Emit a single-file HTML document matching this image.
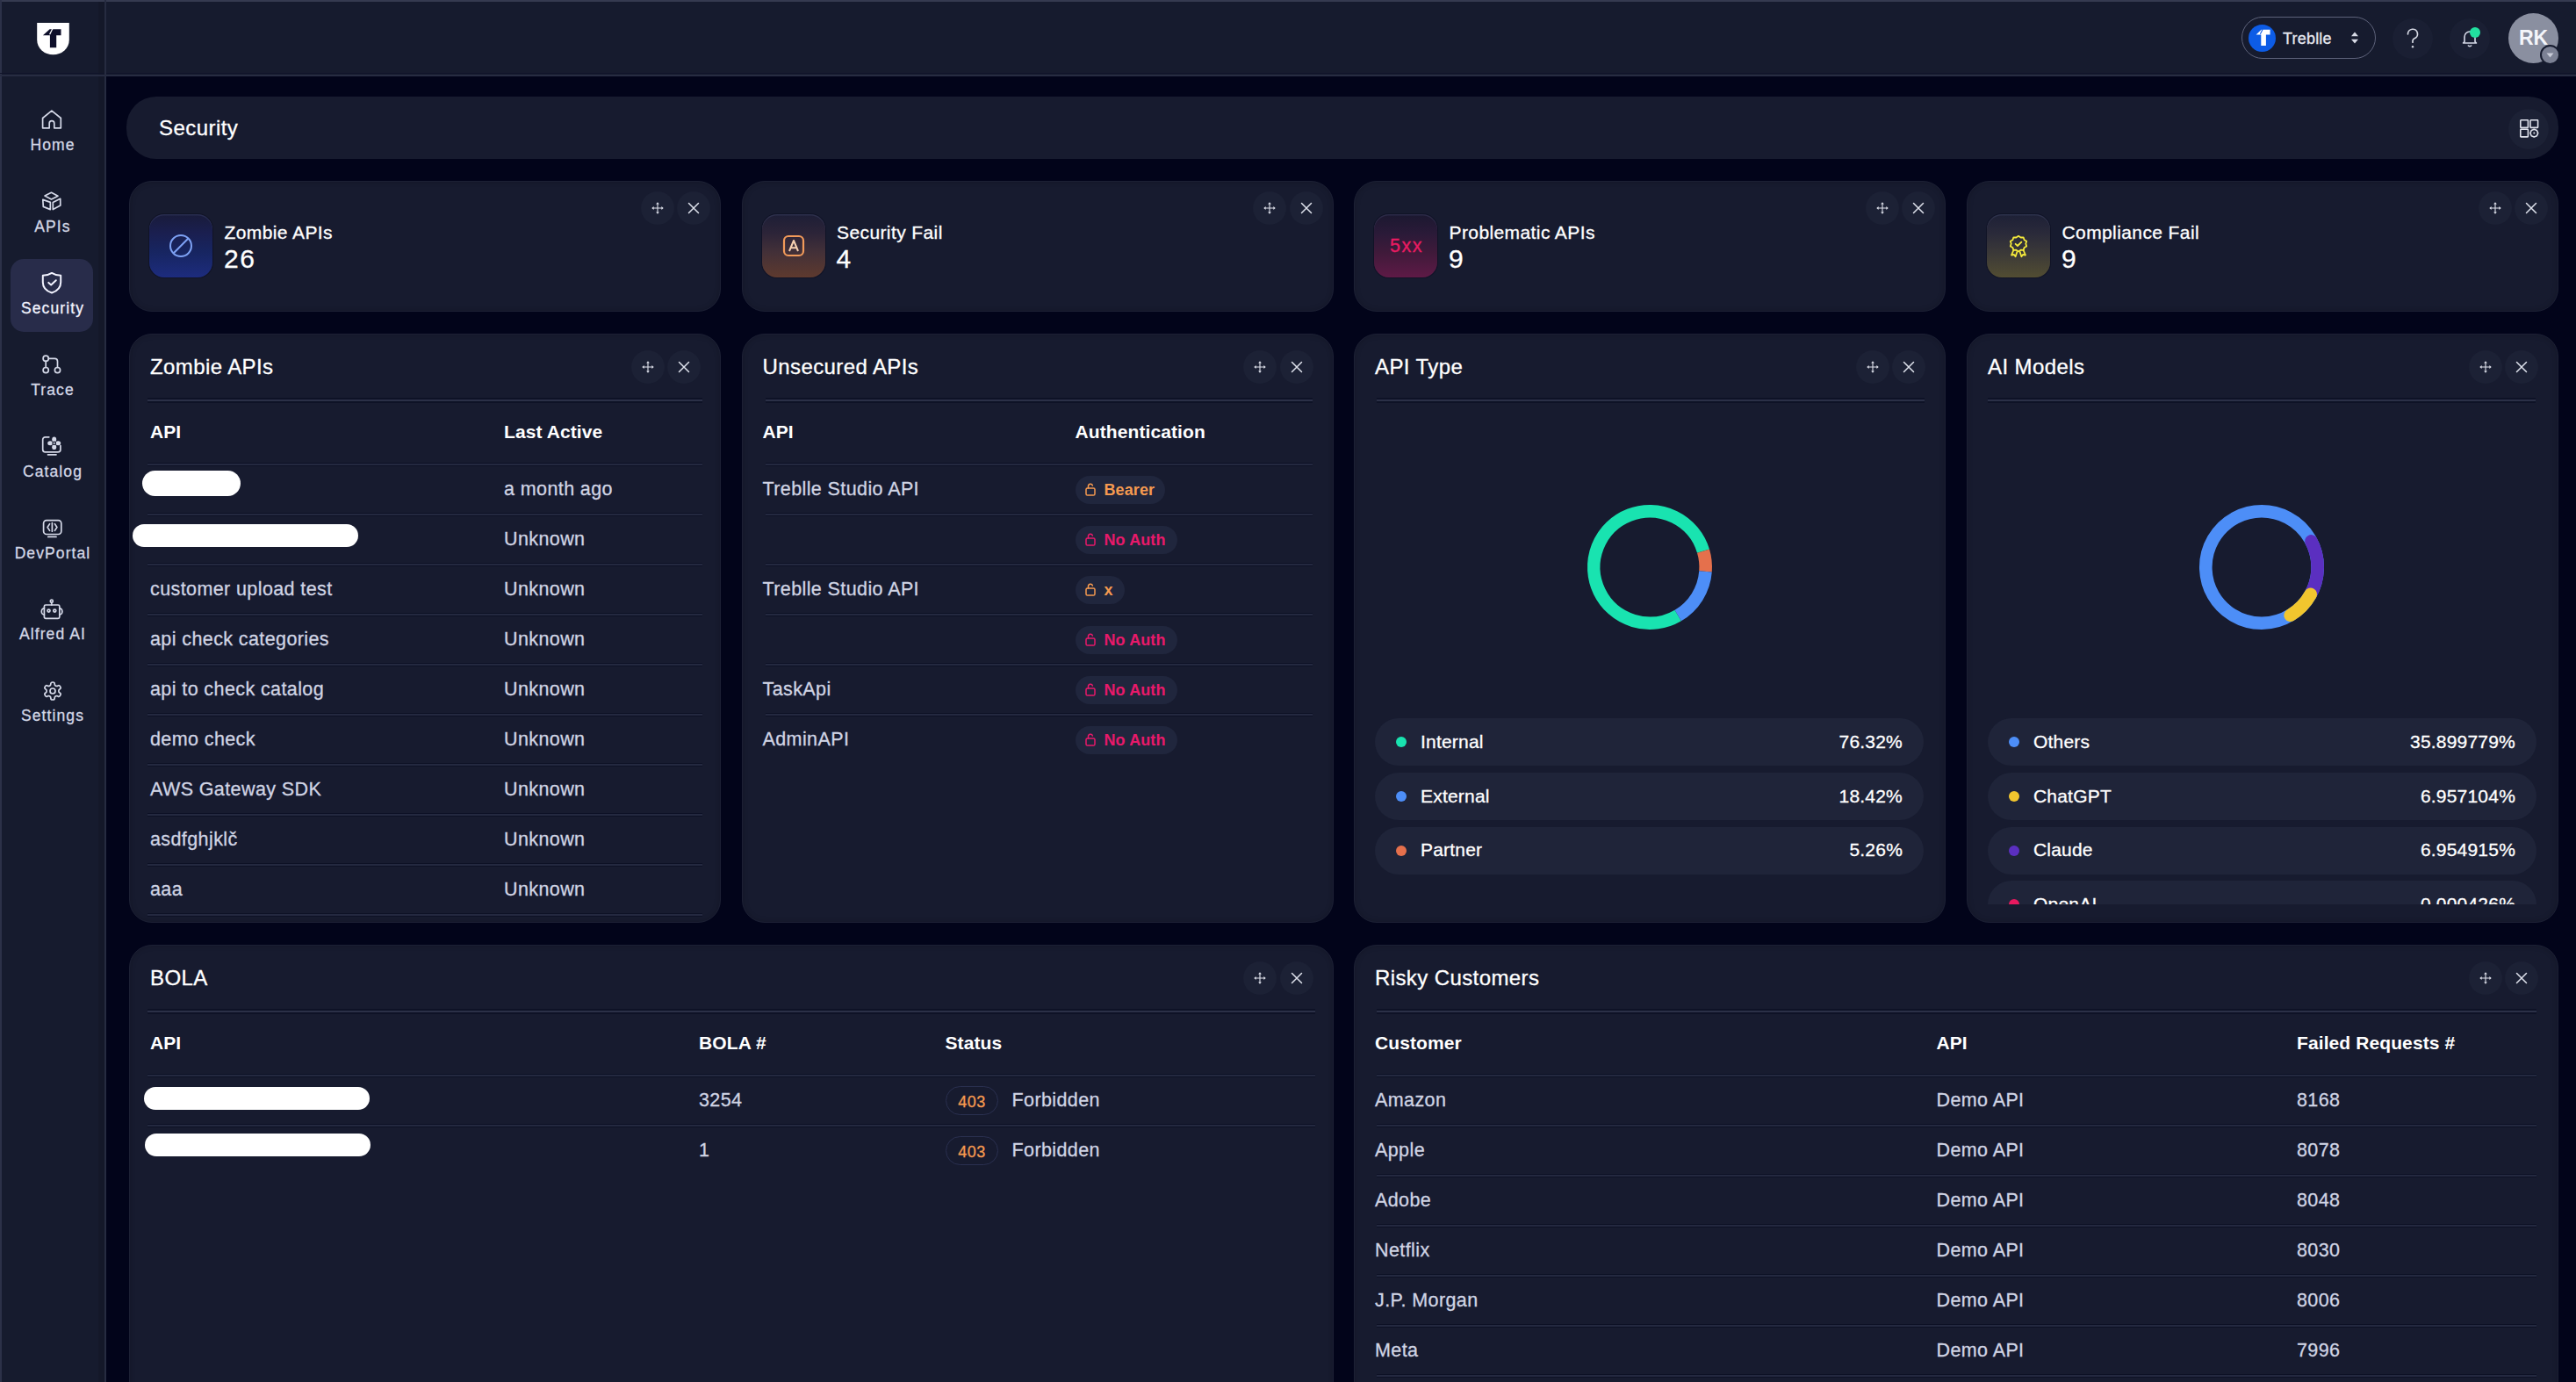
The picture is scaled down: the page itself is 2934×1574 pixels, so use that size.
<!DOCTYPE html><html><head><meta charset="utf-8"><title>Treblle - Security</title><style>
*{margin:0;padding:0;box-sizing:border-box}
html,body{width:2934px;height:1574px;overflow:hidden;background:#02041a;font-family:"Liberation Sans",Arial,sans-serif;}
.a{position:absolute}
.t{position:absolute;white-space:nowrap;line-height:1;-webkit-text-stroke:0.3px currentColor}
svg{position:absolute;overflow:visible}
.btn{position:absolute;width:38px;height:38px;border-radius:50%;background:#1c2135}
.rd{position:absolute;height:2px;background:#242940;box-shadow:0 -1px 0 #0d1125,0 1px 0 #0d1125}
.hd{position:absolute;height:2px;background:#2b3047;box-shadow:0 -2px 0 #0e1226,0 2px 0 #0e1226}
</style></head><body>
<div class="a" style="left:0px;top:0px;width:2934px;height:85px;background:#161b2e;border-radius:0px;"></div>
<div class="a" style="left:0px;top:85px;width:2934px;height:1px;background:#2a2f45;border-radius:0px;"></div>
<div class="a" style="left:0px;top:0px;width:2934px;height:2px;background:#353a50;border-radius:0px;"></div>
<div class="a" style="left:0px;top:85px;width:119px;height:1489px;background:#161b2e;border-radius:0px;"></div>
<div class="a" style="left:112px;top:0px;width:7px;height:1574px;background:#141829;border-radius:0px;"></div>
<div class="a" style="left:0px;top:0px;width:2934px;height:2px;background:#353a50;border-radius:0px;"></div>
<div class="a" style="left:119px;top:0px;width:1.5px;height:1574px;background:#262b40;border-radius:0px;"></div>
<div class="a" style="left:0px;top:0px;width:2px;height:1574px;background:#2c3148;border-radius:0px;"></div>
<svg style="left:41.5px;top:25.5px;" width="37" height="37" viewBox="0 0 37 37" fill="none"><path d="M0.2 0.1H36.8V19.5A18.3 16.8 0 0 1 0.2 19.5Z" fill="#fff"/><path d="M6.9 14.3L14.6 7.3H27.5V14.3H22.2V28.2H14.9V14.3Z" fill="#0e0f2a"/><path d="M17.8 6.8L14.6 13.2" stroke="#fff" stroke-width="1.3"/></svg>
<div class="a" style="left:12px;top:295px;width:94px;height:83px;background:#282c4a;border-radius:15px;"></div>
<svg style="left:47px;top:124px;" width="24" height="24" viewBox="0 0 24 24" fill="none"><path d="M1.6 21.8V10.5L11.9 2.2L22.3 10.5V21.8H14.8V16.4A2.8 2.8 0 0 0 9.2 16.4V21.8Z" stroke="#d5d9e8" stroke-width="1.7" stroke-linecap="round" stroke-linejoin="round"/></svg>
<div class="t" style="left:-140.0px;width:400px;text-align:center;top:157.0px;font-size:17.5px;color:#d3d7e6;letter-spacing:1.1px;">Home</div>
<svg style="left:47px;top:217px;" width="24" height="24" viewBox="0 0 24 24" fill="none"><path d="M4 6L11.5 2.3L19 6.2L11.5 10Z M1.8 10.4L10.3 13.4V21.6L2.3 18.4Z M13.3 13.4L21.7 9.3L21.8 17L13.3 21.6Z" stroke="#d5d9e8" stroke-width="1.7" stroke-linecap="round" stroke-linejoin="round"/></svg>
<div class="t" style="left:-140.0px;width:400px;text-align:center;top:249.9px;font-size:17.5px;color:#d3d7e6;letter-spacing:1.1px;">APIs</div>
<svg style="left:47px;top:309.5px;" width="24" height="24" viewBox="0 0 24 24" fill="none"><path d="M12 0.9C14.8 2.7 18 3.6 22.2 3.8V11.5C22.2 17.3 18 21.6 12 23.5C6 21.6 1.8 17.3 1.8 11.5V3.8C6 3.6 9.2 2.7 12 0.9Z" stroke="#f2f3ff" stroke-width="2" stroke-linecap="round" stroke-linejoin="round"/><path d="M8.3 11.9L11.2 14.4L16.8 9.2" stroke="#f2f3ff" stroke-width="2" stroke-linecap="round" stroke-linejoin="round"/></svg>
<div class="t" style="left:-140.0px;width:400px;text-align:center;top:342.8px;font-size:17.5px;color:#f2f3ff;letter-spacing:1.1px;">Security</div>
<svg style="left:47px;top:402px;" width="24" height="24" viewBox="0 0 24 24" fill="none"><circle cx="5.2" cy="6.3" r="3.1" stroke="#d5d9e8" stroke-width="1.7" stroke-linecap="round" stroke-linejoin="round"/><circle cx="5.2" cy="19.6" r="3.1" stroke="#d5d9e8" stroke-width="1.7" stroke-linecap="round" stroke-linejoin="round"/><circle cx="18.5" cy="19.6" r="3.1" stroke="#d5d9e8" stroke-width="1.7" stroke-linecap="round" stroke-linejoin="round"/><path d="M5.2 9.4V16.5 M8.3 6.3H15.3A3.2 3.2 0 0 1 18.5 9.5V16.5" stroke="#d5d9e8" stroke-width="1.7" stroke-linecap="round" stroke-linejoin="round"/></svg>
<div class="t" style="left:-140.0px;width:400px;text-align:center;top:435.7px;font-size:17.5px;color:#d3d7e6;letter-spacing:1.1px;">Trace</div>
<svg style="left:47px;top:495px;" width="24" height="24" viewBox="0 0 24 24" fill="none"><path d="M8.8 2.8H4.6A2.9 2.9 0 0 0 1.7 5.7V17A2.9 2.9 0 0 0 4.6 19.9H19A2.9 2.9 0 0 0 21.9 17V12.5 M7.5 22.8H17" stroke="#d5d9e8" stroke-width="1.7" stroke-linecap="round" stroke-linejoin="round"/><ellipse cx="14.7" cy="5.4" rx="2.5" ry="2.9" fill="#d5d9e8"/><ellipse cx="14.7" cy="14.2" rx="2.5" ry="2.9" fill="#d5d9e8"/><ellipse cx="10.1" cy="9.8" rx="2.9" ry="2.5" fill="#d5d9e8"/><ellipse cx="19.3" cy="9.8" rx="2.9" ry="2.5" fill="#d5d9e8"/><circle cx="14.7" cy="9.8" r="2.3" fill="#161b2e"/><circle cx="14.7" cy="9.8" r="1.1" fill="#d5d9e8"/></svg>
<div class="t" style="left:-140.0px;width:400px;text-align:center;top:528.6px;font-size:17.5px;color:#d3d7e6;letter-spacing:1.1px;">Catalog</div>
<svg style="left:47px;top:588px;" width="24" height="24" viewBox="0 0 24 24" fill="none"><rect x="2.6" y="4.6" width="20.2" height="15.9" rx="3.4" stroke="#d5d9e8" stroke-width="1.7" stroke-linecap="round" stroke-linejoin="round"/><path d="M7.8 23.4H17 M9.6 8.6L7.1 12.5L9.6 16.4 M12.4 7.6V17.2 M15.4 8.6L17.9 12.5L15.4 16.4" stroke="#d5d9e8" stroke-width="1.7" stroke-linecap="round" stroke-linejoin="round"/></svg>
<div class="t" style="left:-140.0px;width:400px;text-align:center;top:621.5px;font-size:17.5px;color:#d3d7e6;letter-spacing:1.1px;">DevPortal</div>
<svg style="left:47px;top:681px;" width="24" height="24" viewBox="0 0 24 24" fill="none"><rect x="3.4" y="8" width="17.4" height="15.4" rx="1.6" stroke="#d5d9e8" stroke-width="1.7" stroke-linecap="round" stroke-linejoin="round"/><circle cx="11.8" cy="3.7" r="1.5" stroke="#d5d9e8" stroke-width="1.7" stroke-linecap="round" stroke-linejoin="round"/><path d="M11.8 5.2V8 M3.4 11.8A3.1 3.6 0 0 0 3.4 19 M20.8 11.8A3.1 3.6 0 0 1 20.8 19" stroke="#d5d9e8" stroke-width="1.7" stroke-linecap="round" stroke-linejoin="round"/><circle cx="8.5" cy="14.6" r="1.5" stroke="#d5d9e8" stroke-width="1.7" stroke-linecap="round" stroke-linejoin="round"/><circle cx="15.3" cy="14.6" r="1.5" stroke="#d5d9e8" stroke-width="1.7" stroke-linecap="round" stroke-linejoin="round"/></svg>
<div class="t" style="left:-140.0px;width:400px;text-align:center;top:714.4px;font-size:17.5px;color:#d3d7e6;letter-spacing:1.1px;">Alfred AI</div>
<svg style="left:48px;top:775px;" width="24" height="24" viewBox="0 0 24 24" fill="none"><path d="M12.22 2h-.44a2 2 0 0 0-2 2v.18a2 2 0 0 1-1 1.73l-.43.25a2 2 0 0 1-2 0l-.15-.08a2 2 0 0 0-2.730.73l-.22.38a2 2 0 0 0 .73 2.73l.15.1a2 2 0 0 1 1 1.72v.51a2 2 0 0 1-1 1.74l-.15.09a2 2 0 0 0-.73 2.730l.22.38a2 2 0 0 0 2.73.73l.15-.08a2 2 0 0 1 2 0l.43.25a2 2 0 0 1 1 1.73V20a2 2 0 0 0 2 2h.44a2 2 0 0 0 2-2v-.18a2 2 0 0 1 1-1.73l.43-.25a2 2 0 0 1 2 0l.15.08a2 2 0 0 0 2.73-.73l.22-.39a2 2 0 0 0-.73-2.73l-.15-.08a2 2 0 0 1-1-1.74v-.5a2 2 0 0 1 1-1.74l.15-.09a2 2 0 0 0 .73-2.73l-.22-.38a2 2 0 0 0-2.73-.73l-.15.08a2 2 0 0 1-2 0l-.43-.25a2 2 0 0 1-1-1.73V4a2 2 0 0 0-2-2z" stroke="#d5d9e8" stroke-width="1.7" stroke-linecap="round" stroke-linejoin="round"/><circle cx="12" cy="12" r="3" stroke="#d5d9e8" stroke-width="1.7" stroke-linecap="round" stroke-linejoin="round"/></svg>
<div class="t" style="left:-140.0px;width:400px;text-align:center;top:807.3px;font-size:17.5px;color:#d3d7e6;letter-spacing:1.1px;">Settings</div>
<div class="a" style="left:0px;top:83px;width:2934px;height:1px;background:#10142a;border-radius:0px;"></div>
<div class="a" style="left:0px;top:85px;width:2934px;height:1.5px;background:#272c42;border-radius:0px;"></div>
<div class="a" style="left:119px;top:0px;width:1.5px;height:1574px;background:#262b40;border-radius:0px;"></div>
<div class="a" style="left:2553px;top:19px;width:153px;height:48px;border-radius:24px;border:1.5px solid #5d627a;"></div>
<div class="a" style="left:2561px;top:28px;width:31px;height:31px;border-radius:50%;background:#0d5ce6;"></div>
<svg style="left:2561px;top:28px;" width="31" height="31" viewBox="0 0 31 31" fill="none"><path d="M8.6 11.6L14.6 5.8H24.6V11.6H19.9V24H14.3V11.6Z" fill="#fff"/><path d="M16.2 5.3L13.4 10.8" stroke="#0d5ce6" stroke-width="1.1"/></svg>
<div class="t" style="left:2600.0px;top:34.8px;font-size:18px;color:#e6e8f0;letter-spacing:0.2px;">Treblle</div>
<svg style="left:2676px;top:35px;" width="12" height="16" viewBox="0 0 12 16" fill="none"><path d="M6 1.5L10 6.2H2Z M6 14.5L10 9.8H2Z" fill="#d8dbe6"/></svg>
<div class="a" style="left:2725px;top:21px;width:46px;height:46px;border-radius:50%;background:#1a1f33;"></div>
<svg style="left:2740px;top:32px;" width="16" height="24" viewBox="0 0 16 24" fill="none"><path d="M2.5 6.8A5.5 5.5 0 1 1 9.6 12C8.6 12.6 8 13.3 8 14.6V16.2" stroke="#d8dbe6" stroke-width="1.7" stroke-linecap="round"/><circle cx="8" cy="21.2" r="1.2" fill="#d8dbe6"/></svg>
<div class="a" style="left:2790px;top:21px;width:46px;height:46px;border-radius:50%;background:#1a1f33;"></div>
<svg style="left:2801px;top:31px;" width="24" height="24" viewBox="0 0 24 24" fill="none"><path d="M6 16.5V11A6 6 0 0 1 18 11V16.5L19.5 18H4.5Z M10 20.5A2.2 2.2 0 0 0 14 20.5" stroke="#d5d9e8" stroke-width="1.6" stroke-linejoin="round"/></svg>
<div class="a" style="left:2813px;top:31px;width:12px;height:12px;border-radius:50%;background:#22e0a0;"></div>
<div class="a" style="left:2857px;top:15px;width:57px;height:57px;border-radius:50%;background:#8a8fa0;"></div>
<div class="t" style="left:2685.5px;width:400px;text-align:center;top:31.5px;font-size:23px;color:#f4f5fa;font-weight:700;-webkit-text-stroke:0;">RK</div>
<div class="a" style="left:2893px;top:51px;width:23px;height:23px;border-radius:50%;background:#7c8194;border:2px solid #161b2e;"></div>
<svg style="left:2899px;top:59px;" width="11" height="8" viewBox="0 0 11 8" fill="none"><path d="M1.5 1.5H9.5L5.5 6.5Z" fill="#c9ccd8"/></svg>
<div class="a" style="left:144px;top:110px;width:2770px;height:71px;background:#171b2f;border-radius:34px;"></div>
<div class="t" style="left:181.0px;top:133.7px;font-size:24px;color:#fff;letter-spacing:0.45px;">Security</div>
<div class="a" style="left:2857px;top:124px;width:46px;height:46px;border-radius:50%;background:#1c2135;"></div>
<svg style="left:2869.5px;top:135.5px;" width="23" height="23" viewBox="0 0 23 23" fill="none"><rect x="0.8" y="0.8" width="8.6" height="8.6" rx="0.6" stroke="#dfe2ec" stroke-width="1.6"/><rect x="12" y="0.8" width="8.6" height="8.6" rx="0.6" stroke="#dfe2ec" stroke-width="1.6"/><rect x="0.8" y="11.3" width="8.6" height="8.6" rx="0.6" stroke="#dfe2ec" stroke-width="1.6"/><path d="M16.3 11.2L19.4 12.5L20.7 15.6L19.4 18.7L16.3 20L13.2 18.7L11.9 15.6L13.2 12.5Z" stroke="#dfe2ec" stroke-width="1.6" stroke-linejoin="round"/><circle cx="16.3" cy="15.6" r="1" fill="#dfe2ec"/></svg>
<div class="a" style="left:147px;top:206px;width:674px;height:149px;background:#171b2f;border-radius:26px;border:1px solid #1c2034;box-shadow:inset 0 0 6px rgba(0,0,0,0.18)"></div>
<div class="a" style="left:170px;top:244px;width:72px;height:72px;border-radius:17px;background:linear-gradient(180deg,#191b3a 0%,#1a1f50 30%,#172561 60%,#1d2c7e 100%);box-shadow:inset 0 1.5px 0 rgba(160,170,230,0.12),0 0 0 1px rgba(10,12,30,0.5)"></div>
<svg style="left:192px;top:266px;" width="28" height="28" viewBox="0 0 28 28" fill="none"><circle cx="14" cy="14" r="12" stroke="#7ea2f5" stroke-width="2"/><path d="M5.8 22.2L22.2 5.8" stroke="#7ea2f5" stroke-width="2"/></svg>
<div class="t" style="left:255.5px;top:253.7px;font-size:21px;color:#fff;letter-spacing:0.4px;">Zombie APIs</div>
<div class="t" style="left:255.0px;top:280.1px;font-size:30px;color:#fff;letter-spacing:1.5px;">26</div>
<div class="btn" style="left:729.5px;top:217.5px"></div>
<div class="btn" style="left:771.0px;top:217.5px"></div>
<svg style="left:741.5px;top:229.5px;" width="14" height="14" viewBox="0 0 14 14" fill="none"><path d="M7 2V12 M2 7H12" stroke="#dfe2ec" stroke-width="1.1"/><path d="M7 0.3L8.9 2.6H5.1Z M7 13.7L8.9 11.4H5.1Z M0.3 7L2.6 5.1V8.9Z M13.7 7L11.4 5.1V8.9Z" fill="#dfe2ec"/></svg>
<svg style="left:783.0px;top:229.5px;" width="14" height="14" viewBox="0 0 14 14" fill="none"><path d="M1.5 1.5L12.5 12.5 M12.5 1.5L1.5 12.5" stroke="#dfe2ec" stroke-width="1.5" stroke-linecap="round"/></svg>
<div class="a" style="left:844.5px;top:206px;width:674px;height:149px;background:#171b2f;border-radius:26px;border:1px solid #1c2034;box-shadow:inset 0 0 6px rgba(0,0,0,0.18)"></div>
<div class="a" style="left:867.5px;top:244px;width:72px;height:72px;border-radius:17px;background:linear-gradient(180deg,#1d1e36 0%,#2c2438 30%,#433038 60%,#5e3a2e 100%);box-shadow:inset 0 1.5px 0 rgba(160,170,230,0.12),0 0 0 1px rgba(10,12,30,0.5)"></div>
<svg style="left:889.5px;top:266px;" width="28" height="28" viewBox="0 0 28 28" fill="none"><rect x="3" y="3" width="22" height="22" rx="5" stroke="#f29a5a" stroke-width="2.2"/><path d="M9 20L14 8L19 20 M10.6 16.2H17.4" stroke="#f6d0b0" stroke-width="2" stroke-linejoin="round"/></svg>
<div class="t" style="left:953.0px;top:253.7px;font-size:21px;color:#fff;letter-spacing:0.4px;">Security Fail</div>
<div class="t" style="left:952.5px;top:280.1px;font-size:30px;color:#fff;letter-spacing:1.5px;">4</div>
<div class="btn" style="left:1427.0px;top:217.5px"></div>
<div class="btn" style="left:1468.5px;top:217.5px"></div>
<svg style="left:1439.0px;top:229.5px;" width="14" height="14" viewBox="0 0 14 14" fill="none"><path d="M7 2V12 M2 7H12" stroke="#dfe2ec" stroke-width="1.1"/><path d="M7 0.3L8.9 2.6H5.1Z M7 13.7L8.9 11.4H5.1Z M0.3 7L2.6 5.1V8.9Z M13.7 7L11.4 5.1V8.9Z" fill="#dfe2ec"/></svg>
<svg style="left:1480.5px;top:229.5px;" width="14" height="14" viewBox="0 0 14 14" fill="none"><path d="M1.5 1.5L12.5 12.5 M12.5 1.5L1.5 12.5" stroke="#dfe2ec" stroke-width="1.5" stroke-linecap="round"/></svg>
<div class="a" style="left:1542px;top:206px;width:674px;height:149px;background:#171b2f;border-radius:26px;border:1px solid #1c2034;box-shadow:inset 0 0 6px rgba(0,0,0,0.18)"></div>
<div class="a" style="left:1565px;top:244px;width:72px;height:72px;border-radius:17px;background:linear-gradient(180deg,#1b1830 0%,#2a1a38 30%,#3f1a3a 60%,#5e1a46 100%);box-shadow:inset 0 1.5px 0 rgba(160,170,230,0.12),0 0 0 1px rgba(10,12,30,0.5)"></div>
<div class="t" style="left:1402.0px;width:400px;text-align:center;top:269.8px;font-size:21.5px;color:#ea1a62;letter-spacing:1.5px;">5xx</div>
<div class="t" style="left:1650.5px;top:253.7px;font-size:21px;color:#fff;letter-spacing:0.4px;">Problematic APIs</div>
<div class="t" style="left:1650.0px;top:280.1px;font-size:30px;color:#fff;letter-spacing:1.5px;">9</div>
<div class="btn" style="left:2124.5px;top:217.5px"></div>
<div class="btn" style="left:2166.0px;top:217.5px"></div>
<svg style="left:2136.5px;top:229.5px;" width="14" height="14" viewBox="0 0 14 14" fill="none"><path d="M7 2V12 M2 7H12" stroke="#dfe2ec" stroke-width="1.1"/><path d="M7 0.3L8.9 2.6H5.1Z M7 13.7L8.9 11.4H5.1Z M0.3 7L2.6 5.1V8.9Z M13.7 7L11.4 5.1V8.9Z" fill="#dfe2ec"/></svg>
<svg style="left:2178.0px;top:229.5px;" width="14" height="14" viewBox="0 0 14 14" fill="none"><path d="M1.5 1.5L12.5 12.5 M12.5 1.5L1.5 12.5" stroke="#dfe2ec" stroke-width="1.5" stroke-linecap="round"/></svg>
<div class="a" style="left:2240px;top:206px;width:674px;height:149px;background:#171b2f;border-radius:26px;border:1px solid #1c2034;box-shadow:inset 0 0 6px rgba(0,0,0,0.18)"></div>
<div class="a" style="left:2263px;top:244px;width:72px;height:72px;border-radius:17px;background:linear-gradient(180deg,#1d2036 0%,#2a2a3a 30%,#3a3838 60%,#524d32 100%);box-shadow:inset 0 1.5px 0 rgba(160,170,230,0.12),0 0 0 1px rgba(10,12,30,0.5)"></div>
<svg style="left:2285px;top:266px;" width="28" height="28" viewBox="0 0 28 28" fill="none"><path d="M14 2.8L16.6 4.5L19.6 4.3L20.6 7.2L23.2 8.7L22.3 11.6L23.2 14.5L20.6 16L19.6 18.9L16.6 18.7L14 20.4L11.4 18.7L8.4 18.9L7.4 16L4.8 14.5L5.7 11.6L4.8 8.7L7.4 7.2L8.4 4.3L11.4 4.5Z" stroke="#f5ea3c" stroke-width="1.8" stroke-linejoin="round"/><path d="M10.6 11.8L13 14L17.4 9.6" stroke="#f5ea3c" stroke-width="1.8" stroke-linecap="round" stroke-linejoin="round"/><path d="M8.6 18.5L6 24.5L9 24L10.6 26.2L12.6 20.2 M19.4 18.5L22 24.5L19 24L17.4 26.2L15.4 20.2" stroke="#f5ea3c" stroke-width="1.8" stroke-linejoin="round"/></svg>
<div class="t" style="left:2348.5px;top:253.7px;font-size:21px;color:#fff;letter-spacing:0.4px;">Compliance Fail</div>
<div class="t" style="left:2348.0px;top:280.1px;font-size:30px;color:#fff;letter-spacing:1.5px;">9</div>
<div class="btn" style="left:2822.5px;top:217.5px"></div>
<div class="btn" style="left:2864.0px;top:217.5px"></div>
<svg style="left:2834.5px;top:229.5px;" width="14" height="14" viewBox="0 0 14 14" fill="none"><path d="M7 2V12 M2 7H12" stroke="#dfe2ec" stroke-width="1.1"/><path d="M7 0.3L8.9 2.6H5.1Z M7 13.7L8.9 11.4H5.1Z M0.3 7L2.6 5.1V8.9Z M13.7 7L11.4 5.1V8.9Z" fill="#dfe2ec"/></svg>
<svg style="left:2876.0px;top:229.5px;" width="14" height="14" viewBox="0 0 14 14" fill="none"><path d="M1.5 1.5L12.5 12.5 M12.5 1.5L1.5 12.5" stroke="#dfe2ec" stroke-width="1.5" stroke-linecap="round"/></svg>
<div class="a" style="left:147px;top:380px;width:674px;height:671px;background:#171b2f;border-radius:26px;border:1px solid #1c2034;box-shadow:inset 0 0 6px rgba(0,0,0,0.18)"></div>
<div class="t" style="left:171.0px;top:405.7px;font-size:24px;color:#fff;letter-spacing:0.4px;">Zombie APIs</div>
<div class="btn" style="left:718.5px;top:398.5px"></div>
<div class="btn" style="left:760.0px;top:398.5px"></div>
<svg style="left:730.5px;top:410.5px;" width="14" height="14" viewBox="0 0 14 14" fill="none"><path d="M7 2V12 M2 7H12" stroke="#dfe2ec" stroke-width="1.1"/><path d="M7 0.3L8.9 2.6H5.1Z M7 13.7L8.9 11.4H5.1Z M0.3 7L2.6 5.1V8.9Z M13.7 7L11.4 5.1V8.9Z" fill="#dfe2ec"/></svg>
<svg style="left:772.0px;top:410.5px;" width="14" height="14" viewBox="0 0 14 14" fill="none"><path d="M1.5 1.5L12.5 12.5 M12.5 1.5L1.5 12.5" stroke="#dfe2ec" stroke-width="1.5" stroke-linecap="round"/></svg>
<div class="hd" style="left:168px;top:455px;width:632px"></div>
<div class="t" style="left:171.0px;top:481.2px;font-size:21px;color:#fff;font-weight:700;-webkit-text-stroke:0;letter-spacing:0.1px;">API</div>
<div class="t" style="left:574.0px;top:481.2px;font-size:21px;color:#fff;font-weight:700;-webkit-text-stroke:0;letter-spacing:0.1px;">Last Active</div>
<div class="rd" style="left:168px;top:528px;width:632px"></div>
<div class="t" style="left:574.0px;top:547.3px;font-size:21.5px;color:#d0d4e4;letter-spacing:0.4px;">a month ago</div>
<div class="rd" style="left:168px;top:585px;width:632px"></div>
<div class="t" style="left:574.0px;top:604.3px;font-size:21.5px;color:#d0d4e4;letter-spacing:0.4px;">Unknown</div>
<div class="rd" style="left:168px;top:642px;width:632px"></div>
<div class="t" style="left:171.0px;top:661.3px;font-size:21.5px;color:#d0d4e4;letter-spacing:0.4px;">customer upload test</div>
<div class="t" style="left:574.0px;top:661.3px;font-size:21.5px;color:#d0d4e4;letter-spacing:0.4px;">Unknown</div>
<div class="rd" style="left:168px;top:699px;width:632px"></div>
<div class="t" style="left:171.0px;top:718.3px;font-size:21.5px;color:#d0d4e4;letter-spacing:0.4px;">api check categories</div>
<div class="t" style="left:574.0px;top:718.3px;font-size:21.5px;color:#d0d4e4;letter-spacing:0.4px;">Unknown</div>
<div class="rd" style="left:168px;top:756px;width:632px"></div>
<div class="t" style="left:171.0px;top:775.3px;font-size:21.5px;color:#d0d4e4;letter-spacing:0.4px;">api to check catalog</div>
<div class="t" style="left:574.0px;top:775.3px;font-size:21.5px;color:#d0d4e4;letter-spacing:0.4px;">Unknown</div>
<div class="rd" style="left:168px;top:813px;width:632px"></div>
<div class="t" style="left:171.0px;top:832.3px;font-size:21.5px;color:#d0d4e4;letter-spacing:0.4px;">demo check</div>
<div class="t" style="left:574.0px;top:832.3px;font-size:21.5px;color:#d0d4e4;letter-spacing:0.4px;">Unknown</div>
<div class="rd" style="left:168px;top:870px;width:632px"></div>
<div class="t" style="left:171.0px;top:889.3px;font-size:21.5px;color:#d0d4e4;letter-spacing:0.4px;">AWS Gateway SDK</div>
<div class="t" style="left:574.0px;top:889.3px;font-size:21.5px;color:#d0d4e4;letter-spacing:0.4px;">Unknown</div>
<div class="rd" style="left:168px;top:927px;width:632px"></div>
<div class="t" style="left:171.0px;top:946.3px;font-size:21.5px;color:#d0d4e4;letter-spacing:0.4px;">asdfghjkl&#269;</div>
<div class="t" style="left:574.0px;top:946.3px;font-size:21.5px;color:#d0d4e4;letter-spacing:0.4px;">Unknown</div>
<div class="rd" style="left:168px;top:984px;width:632px"></div>
<div class="t" style="left:171.0px;top:1003.3px;font-size:21.5px;color:#d0d4e4;letter-spacing:0.4px;">aaa</div>
<div class="t" style="left:574.0px;top:1003.3px;font-size:21.5px;color:#d0d4e4;letter-spacing:0.4px;">Unknown</div>
<div class="rd" style="left:168px;top:1041px;width:632px"></div>
<div class="a" style="left:162px;top:536px;width:112px;height:29px;background:#ffffff;border-radius:15px;"></div>
<div class="a" style="left:151px;top:597px;width:257px;height:26px;background:#ffffff;border-radius:13px;"></div>
<div class="a" style="left:844.5px;top:380px;width:674px;height:671px;background:#171b2f;border-radius:26px;border:1px solid #1c2034;box-shadow:inset 0 0 6px rgba(0,0,0,0.18)"></div>
<div class="t" style="left:868.5px;top:405.7px;font-size:24px;color:#fff;letter-spacing:0.4px;">Unsecured APIs</div>
<div class="btn" style="left:1416.0px;top:398.5px"></div>
<div class="btn" style="left:1457.5px;top:398.5px"></div>
<svg style="left:1428.0px;top:410.5px;" width="14" height="14" viewBox="0 0 14 14" fill="none"><path d="M7 2V12 M2 7H12" stroke="#dfe2ec" stroke-width="1.1"/><path d="M7 0.3L8.9 2.6H5.1Z M7 13.7L8.9 11.4H5.1Z M0.3 7L2.6 5.1V8.9Z M13.7 7L11.4 5.1V8.9Z" fill="#dfe2ec"/></svg>
<svg style="left:1469.5px;top:410.5px;" width="14" height="14" viewBox="0 0 14 14" fill="none"><path d="M1.5 1.5L12.5 12.5 M12.5 1.5L1.5 12.5" stroke="#dfe2ec" stroke-width="1.5" stroke-linecap="round"/></svg>
<div class="hd" style="left:871.5px;top:455px;width:623px"></div>
<div class="t" style="left:868.5px;top:481.2px;font-size:21px;color:#fff;font-weight:700;-webkit-text-stroke:0;letter-spacing:0.1px;">API</div>
<div class="t" style="left:1224.5px;top:481.2px;font-size:21px;color:#fff;font-weight:700;-webkit-text-stroke:0;letter-spacing:0.1px;">Authentication</div>
<div class="rd" style="left:871.5px;top:528px;width:623px"></div>
<div class="t" style="left:868.5px;top:547.3px;font-size:21.5px;color:#d0d4e4;letter-spacing:0.4px;">Treblle Studio API</div>
<div class="a" style="left:1224.5px;top:542px;width:102px;height:32px;border-radius:16px;background:#20263d;"></div>
<svg style="left:1234.5px;top:549px;" width="14" height="16" viewBox="0 0 14 16" fill="none"><rect x="2" y="7" width="10" height="8" rx="1.6" stroke="#f59a50" stroke-width="1.5"/><path d="M4.5 7V4.6A2.5 2.5 0 0 1 9.4 4" stroke="#f59a50" stroke-width="1.5" stroke-linecap="round"/></svg>
<div class="t" style="left:1257.5px;top:549.3px;font-size:18px;color:#f59a50;font-weight:700;-webkit-text-stroke:0;letter-spacing:0.1px;">Bearer</div>
<div class="rd" style="left:871.5px;top:585px;width:623px"></div>
<div class="a" style="left:1224.5px;top:599px;width:116px;height:32px;border-radius:16px;background:#20263d;"></div>
<svg style="left:1234.5px;top:606px;" width="14" height="16" viewBox="0 0 14 16" fill="none"><rect x="2" y="7" width="10" height="8" rx="1.6" stroke="#e8196a" stroke-width="1.5"/><path d="M4.5 7V4.6A2.5 2.5 0 0 1 9.4 4" stroke="#e8196a" stroke-width="1.5" stroke-linecap="round"/></svg>
<div class="t" style="left:1257.5px;top:606.3px;font-size:18px;color:#e8196a;font-weight:700;-webkit-text-stroke:0;letter-spacing:0.1px;">No Auth</div>
<div class="rd" style="left:871.5px;top:642px;width:623px"></div>
<div class="t" style="left:868.5px;top:661.3px;font-size:21.5px;color:#d0d4e4;letter-spacing:0.4px;">Treblle Studio API</div>
<div class="a" style="left:1224.5px;top:656px;width:56px;height:32px;border-radius:16px;background:#20263d;"></div>
<svg style="left:1234.5px;top:663px;" width="14" height="16" viewBox="0 0 14 16" fill="none"><rect x="2" y="7" width="10" height="8" rx="1.6" stroke="#f59a50" stroke-width="1.5"/><path d="M4.5 7V4.6A2.5 2.5 0 0 1 9.4 4" stroke="#f59a50" stroke-width="1.5" stroke-linecap="round"/></svg>
<div class="t" style="left:1257.5px;top:663.3px;font-size:18px;color:#f59a50;font-weight:700;-webkit-text-stroke:0;letter-spacing:0.1px;">x</div>
<div class="rd" style="left:871.5px;top:699px;width:623px"></div>
<div class="a" style="left:1224.5px;top:713px;width:116px;height:32px;border-radius:16px;background:#20263d;"></div>
<svg style="left:1234.5px;top:720px;" width="14" height="16" viewBox="0 0 14 16" fill="none"><rect x="2" y="7" width="10" height="8" rx="1.6" stroke="#e8196a" stroke-width="1.5"/><path d="M4.5 7V4.6A2.5 2.5 0 0 1 9.4 4" stroke="#e8196a" stroke-width="1.5" stroke-linecap="round"/></svg>
<div class="t" style="left:1257.5px;top:720.3px;font-size:18px;color:#e8196a;font-weight:700;-webkit-text-stroke:0;letter-spacing:0.1px;">No Auth</div>
<div class="rd" style="left:871.5px;top:756px;width:623px"></div>
<div class="t" style="left:868.5px;top:775.3px;font-size:21.5px;color:#d0d4e4;letter-spacing:0.4px;">TaskApi</div>
<div class="a" style="left:1224.5px;top:770px;width:116px;height:32px;border-radius:16px;background:#20263d;"></div>
<svg style="left:1234.5px;top:777px;" width="14" height="16" viewBox="0 0 14 16" fill="none"><rect x="2" y="7" width="10" height="8" rx="1.6" stroke="#e8196a" stroke-width="1.5"/><path d="M4.5 7V4.6A2.5 2.5 0 0 1 9.4 4" stroke="#e8196a" stroke-width="1.5" stroke-linecap="round"/></svg>
<div class="t" style="left:1257.5px;top:777.3px;font-size:18px;color:#e8196a;font-weight:700;-webkit-text-stroke:0;letter-spacing:0.1px;">No Auth</div>
<div class="rd" style="left:871.5px;top:813px;width:623px"></div>
<div class="t" style="left:868.5px;top:832.3px;font-size:21.5px;color:#d0d4e4;letter-spacing:0.4px;">AdminAPI</div>
<div class="a" style="left:1224.5px;top:827px;width:116px;height:32px;border-radius:16px;background:#20263d;"></div>
<svg style="left:1234.5px;top:834px;" width="14" height="16" viewBox="0 0 14 16" fill="none"><rect x="2" y="7" width="10" height="8" rx="1.6" stroke="#e8196a" stroke-width="1.5"/><path d="M4.5 7V4.6A2.5 2.5 0 0 1 9.4 4" stroke="#e8196a" stroke-width="1.5" stroke-linecap="round"/></svg>
<div class="t" style="left:1257.5px;top:834.3px;font-size:18px;color:#e8196a;font-weight:700;-webkit-text-stroke:0;letter-spacing:0.1px;">No Auth</div>
<div class="a" style="left:1542px;top:380px;width:674px;height:671px;background:#171b2f;border-radius:26px;border:1px solid #1c2034;box-shadow:inset 0 0 6px rgba(0,0,0,0.18)"></div>
<div class="t" style="left:1566.0px;top:405.7px;font-size:24px;color:#fff;letter-spacing:0.4px;">API Type</div>
<div class="btn" style="left:2113.5px;top:398.5px"></div>
<div class="btn" style="left:2155.0px;top:398.5px"></div>
<svg style="left:2125.5px;top:410.5px;" width="14" height="14" viewBox="0 0 14 14" fill="none"><path d="M7 2V12 M2 7H12" stroke="#dfe2ec" stroke-width="1.1"/><path d="M7 0.3L8.9 2.6H5.1Z M7 13.7L8.9 11.4H5.1Z M0.3 7L2.6 5.1V8.9Z M13.7 7L11.4 5.1V8.9Z" fill="#dfe2ec"/></svg>
<svg style="left:2167.0px;top:410.5px;" width="14" height="14" viewBox="0 0 14 14" fill="none"><path d="M1.5 1.5L12.5 12.5 M12.5 1.5L1.5 12.5" stroke="#dfe2ec" stroke-width="1.5" stroke-linecap="round"/></svg>
<div class="hd" style="left:1568px;top:455px;width:624px"></div>
<svg style="left:1799px;top:565.75px" width="160" height="160" viewBox="1799 565.75 160 160" fill="none"><path d="M1911.23 700.69A63.7 63.7 0 1 1 1940.01 627.45" stroke="#19e3b0" stroke-width="14.6" stroke-linecap="butt"/><path d="M1940.01 627.45A63.7 63.7 0 0 1 1942.51 650.64" stroke="#e5704c" stroke-width="14.6" stroke-linecap="butt"/><path d="M1942.51 650.64A63.7 63.7 0 0 1 1911.23 700.69" stroke="#4d8ef7" stroke-width="14.6" stroke-linecap="butt"/></svg>
<div class="a" style="left:1566px;top:810px;width:625px;height:200px;overflow:hidden"><div class="a" style="left:0;top:8.0px;width:625px;height:54px;border-radius:27px;background:#1f2439;"><div class="a" style="left:24px;top:21px;width:12px;height:12px;border-radius:50%;background:#19e3b0;"></div><div class="t" style="left:52px;top:15.8px;font-size:21px;color:#fff;letter-spacing:0.2px">Internal</div><div class="t" style="right:24px;top:15.8px;font-size:21px;color:#fff;letter-spacing:0.2px">76.32%</div></div>
<div class="a" style="left:0;top:69.8px;width:625px;height:54px;border-radius:27px;background:#1f2439;"><div class="a" style="left:24px;top:21px;width:12px;height:12px;border-radius:50%;background:#4d8ef7;"></div><div class="t" style="left:52px;top:15.8px;font-size:21px;color:#fff;letter-spacing:0.2px">External</div><div class="t" style="right:24px;top:15.8px;font-size:21px;color:#fff;letter-spacing:0.2px">18.42%</div></div>
<div class="a" style="left:0;top:131.6px;width:625px;height:54px;border-radius:27px;background:#1f2439;"><div class="a" style="left:24px;top:21px;width:12px;height:12px;border-radius:50%;background:#e5704c;"></div><div class="t" style="left:52px;top:15.8px;font-size:21px;color:#fff;letter-spacing:0.2px">Partner</div><div class="t" style="right:24px;top:15.8px;font-size:21px;color:#fff;letter-spacing:0.2px">5.26%</div></div>
</div>
<div class="a" style="left:2240px;top:380px;width:674px;height:671px;background:#171b2f;border-radius:26px;border:1px solid #1c2034;box-shadow:inset 0 0 6px rgba(0,0,0,0.18)"></div>
<div class="t" style="left:2264.0px;top:405.7px;font-size:24px;color:#fff;letter-spacing:0.4px;">AI Models</div>
<div class="btn" style="left:2811.5px;top:398.5px"></div>
<div class="btn" style="left:2853.0px;top:398.5px"></div>
<svg style="left:2823.5px;top:410.5px;" width="14" height="14" viewBox="0 0 14 14" fill="none"><path d="M7 2V12 M2 7H12" stroke="#dfe2ec" stroke-width="1.1"/><path d="M7 0.3L8.9 2.6H5.1Z M7 13.7L8.9 11.4H5.1Z M0.3 7L2.6 5.1V8.9Z M13.7 7L11.4 5.1V8.9Z" fill="#dfe2ec"/></svg>
<svg style="left:2865.0px;top:410.5px;" width="14" height="14" viewBox="0 0 14 14" fill="none"><path d="M1.5 1.5L12.5 12.5 M12.5 1.5L1.5 12.5" stroke="#dfe2ec" stroke-width="1.5" stroke-linecap="round"/></svg>
<div class="hd" style="left:2264px;top:455px;width:624px"></div>
<svg style="left:2496.3px;top:565.75px" width="160" height="160" viewBox="2496.3 565.75 160 160" fill="none"><path d="M2576.30 582.05A63.7 63.7 0 1 1 2576.29 582.05" stroke="#4d8ef7" stroke-width="14.6" stroke-linecap="butt"/><path d="M2632.70 616.14A63.7 63.7 0 0 1 2632.54 675.66" stroke="#5b2fc0" stroke-width="14.6" stroke-linecap="round"/><path d="M2632.01 676.63A63.7 63.7 0 0 1 2608.92 700.47" stroke="#f2c62e" stroke-width="14.6" stroke-linecap="round"/></svg>
<div class="a" style="left:2264px;top:810px;width:625px;height:220px;overflow:hidden"><div class="a" style="left:0;top:8.0px;width:625px;height:54px;border-radius:27px;background:#1f2439;"><div class="a" style="left:24px;top:21px;width:12px;height:12px;border-radius:50%;background:#4d8ef7;"></div><div class="t" style="left:52px;top:15.8px;font-size:21px;color:#fff;letter-spacing:0.2px">Others</div><div class="t" style="right:24px;top:15.8px;font-size:21px;color:#fff;letter-spacing:0.2px">35.899779%</div></div>
<div class="a" style="left:0;top:69.8px;width:625px;height:54px;border-radius:27px;background:#1f2439;"><div class="a" style="left:24px;top:21px;width:12px;height:12px;border-radius:50%;background:#f2c62e;"></div><div class="t" style="left:52px;top:15.8px;font-size:21px;color:#fff;letter-spacing:0.2px">ChatGPT</div><div class="t" style="right:24px;top:15.8px;font-size:21px;color:#fff;letter-spacing:0.2px">6.957104%</div></div>
<div class="a" style="left:0;top:131.6px;width:625px;height:54px;border-radius:27px;background:#1f2439;"><div class="a" style="left:24px;top:21px;width:12px;height:12px;border-radius:50%;background:#5b2fc0;"></div><div class="t" style="left:52px;top:15.8px;font-size:21px;color:#fff;letter-spacing:0.2px">Claude</div><div class="t" style="right:24px;top:15.8px;font-size:21px;color:#fff;letter-spacing:0.2px">6.954915%</div></div>
<div class="a" style="left:0;top:193.4px;width:625px;height:54px;border-radius:27px;background:#1f2439;"><div class="a" style="left:24px;top:21px;width:12px;height:12px;border-radius:50%;background:#e8195f;"></div><div class="t" style="left:52px;top:15.8px;font-size:21px;color:#fff;letter-spacing:0.2px">OpenAI</div><div class="t" style="right:24px;top:15.8px;font-size:21px;color:#fff;letter-spacing:0.2px">0.000426%</div></div>
</div>
<div class="a" style="left:147px;top:1076px;width:1371.5px;height:560px;background:#171b2f;border-radius:26px;border:1px solid #1c2034;box-shadow:inset 0 0 6px rgba(0,0,0,0.18)"></div>
<div class="t" style="left:171.0px;top:1102.2px;font-size:24px;color:#fff;letter-spacing:0.4px;">BOLA</div>
<div class="btn" style="left:1416.0px;top:1094.5px"></div>
<div class="btn" style="left:1457.5px;top:1094.5px"></div>
<svg style="left:1428.0px;top:1106.5px;" width="14" height="14" viewBox="0 0 14 14" fill="none"><path d="M7 2V12 M2 7H12" stroke="#dfe2ec" stroke-width="1.1"/><path d="M7 0.3L8.9 2.6H5.1Z M7 13.7L8.9 11.4H5.1Z M0.3 7L2.6 5.1V8.9Z M13.7 7L11.4 5.1V8.9Z" fill="#dfe2ec"/></svg>
<svg style="left:1469.5px;top:1106.5px;" width="14" height="14" viewBox="0 0 14 14" fill="none"><path d="M1.5 1.5L12.5 12.5 M12.5 1.5L1.5 12.5" stroke="#dfe2ec" stroke-width="1.5" stroke-linecap="round"/></svg>
<div class="hd" style="left:168px;top:1151px;width:1329.5px"></div>
<div class="t" style="left:171.0px;top:1177.2px;font-size:21px;color:#fff;font-weight:700;-webkit-text-stroke:0;letter-spacing:0.1px;">API</div>
<div class="t" style="left:796.0px;top:1177.2px;font-size:21px;color:#fff;font-weight:700;-webkit-text-stroke:0;letter-spacing:0.1px;">BOLA #</div>
<div class="t" style="left:1076.5px;top:1177.2px;font-size:21px;color:#fff;font-weight:700;-webkit-text-stroke:0;letter-spacing:0.1px;">Status</div>
<div class="rd" style="left:168px;top:1224px;width:1329.5px"></div>
<div class="t" style="left:796.0px;top:1243.3px;font-size:21.5px;color:#d0d4e4;letter-spacing:0.4px;">3254</div>
<div class="a" style="left:1077px;top:1237px;width:60px;height:33px;border-radius:17px;border:1.5px solid #2a3050;background:#171b2f;"></div>
<div class="t" style="left:907.0px;width:400px;text-align:center;top:1246.3px;font-size:18px;color:#f59a50;letter-spacing:0.5px;">403</div>
<div class="t" style="left:1152.5px;top:1243.3px;font-size:21.5px;color:#d0d4e4;letter-spacing:0.4px;">Forbidden</div>
<div class="rd" style="left:168px;top:1281px;width:1329.5px"></div>
<div class="t" style="left:796.0px;top:1300.3px;font-size:21.5px;color:#d0d4e4;letter-spacing:0.4px;">1</div>
<div class="a" style="left:1077px;top:1294px;width:60px;height:33px;border-radius:17px;border:1.5px solid #2a3050;background:#171b2f;"></div>
<div class="t" style="left:907.0px;width:400px;text-align:center;top:1303.3px;font-size:18px;color:#f59a50;letter-spacing:0.5px;">403</div>
<div class="t" style="left:1152.5px;top:1300.3px;font-size:21.5px;color:#d0d4e4;letter-spacing:0.4px;">Forbidden</div>
<div class="a" style="left:164px;top:1238px;width:257px;height:26px;background:#ffffff;border-radius:13px;"></div>
<div class="a" style="left:165px;top:1291px;width:257px;height:26px;background:#ffffff;border-radius:13px;"></div>
<div class="a" style="left:1542px;top:1076px;width:1372px;height:560px;background:#171b2f;border-radius:26px;border:1px solid #1c2034;box-shadow:inset 0 0 6px rgba(0,0,0,0.18)"></div>
<div class="t" style="left:1566.0px;top:1102.2px;font-size:24px;color:#fff;letter-spacing:0.4px;">Risky Customers</div>
<div class="btn" style="left:2811.5px;top:1094.5px"></div>
<div class="btn" style="left:2853.0px;top:1094.5px"></div>
<svg style="left:2823.5px;top:1106.5px;" width="14" height="14" viewBox="0 0 14 14" fill="none"><path d="M7 2V12 M2 7H12" stroke="#dfe2ec" stroke-width="1.1"/><path d="M7 0.3L8.9 2.6H5.1Z M7 13.7L8.9 11.4H5.1Z M0.3 7L2.6 5.1V8.9Z M13.7 7L11.4 5.1V8.9Z" fill="#dfe2ec"/></svg>
<svg style="left:2865.0px;top:1106.5px;" width="14" height="14" viewBox="0 0 14 14" fill="none"><path d="M1.5 1.5L12.5 12.5 M12.5 1.5L1.5 12.5" stroke="#dfe2ec" stroke-width="1.5" stroke-linecap="round"/></svg>
<div class="hd" style="left:1568px;top:1151px;width:1321px"></div>
<div class="t" style="left:1566.0px;top:1177.2px;font-size:21px;color:#fff;font-weight:700;-webkit-text-stroke:0;letter-spacing:0.1px;">Customer</div>
<div class="t" style="left:2205.5px;top:1177.2px;font-size:21px;color:#fff;font-weight:700;-webkit-text-stroke:0;letter-spacing:0.1px;">API</div>
<div class="t" style="left:2616.0px;top:1177.2px;font-size:21px;color:#fff;font-weight:700;-webkit-text-stroke:0;letter-spacing:0.1px;">Failed Requests #</div>
<div class="rd" style="left:1568px;top:1224px;width:1321px"></div>
<div class="t" style="left:1566.0px;top:1243.3px;font-size:21.5px;color:#d0d4e4;letter-spacing:0.4px;">Amazon</div>
<div class="t" style="left:2205.5px;top:1243.3px;font-size:21.5px;color:#d0d4e4;letter-spacing:0.4px;">Demo API</div>
<div class="t" style="left:2616.0px;top:1243.3px;font-size:21.5px;color:#d0d4e4;letter-spacing:0.4px;">8168</div>
<div class="rd" style="left:1568px;top:1281px;width:1321px"></div>
<div class="t" style="left:1566.0px;top:1300.3px;font-size:21.5px;color:#d0d4e4;letter-spacing:0.4px;">Apple</div>
<div class="t" style="left:2205.5px;top:1300.3px;font-size:21.5px;color:#d0d4e4;letter-spacing:0.4px;">Demo API</div>
<div class="t" style="left:2616.0px;top:1300.3px;font-size:21.5px;color:#d0d4e4;letter-spacing:0.4px;">8078</div>
<div class="rd" style="left:1568px;top:1338px;width:1321px"></div>
<div class="t" style="left:1566.0px;top:1357.3px;font-size:21.5px;color:#d0d4e4;letter-spacing:0.4px;">Adobe</div>
<div class="t" style="left:2205.5px;top:1357.3px;font-size:21.5px;color:#d0d4e4;letter-spacing:0.4px;">Demo API</div>
<div class="t" style="left:2616.0px;top:1357.3px;font-size:21.5px;color:#d0d4e4;letter-spacing:0.4px;">8048</div>
<div class="rd" style="left:1568px;top:1395px;width:1321px"></div>
<div class="t" style="left:1566.0px;top:1414.3px;font-size:21.5px;color:#d0d4e4;letter-spacing:0.4px;">Netflix</div>
<div class="t" style="left:2205.5px;top:1414.3px;font-size:21.5px;color:#d0d4e4;letter-spacing:0.4px;">Demo API</div>
<div class="t" style="left:2616.0px;top:1414.3px;font-size:21.5px;color:#d0d4e4;letter-spacing:0.4px;">8030</div>
<div class="rd" style="left:1568px;top:1452px;width:1321px"></div>
<div class="t" style="left:1566.0px;top:1471.3px;font-size:21.5px;color:#d0d4e4;letter-spacing:0.4px;">J.P. Morgan</div>
<div class="t" style="left:2205.5px;top:1471.3px;font-size:21.5px;color:#d0d4e4;letter-spacing:0.4px;">Demo API</div>
<div class="t" style="left:2616.0px;top:1471.3px;font-size:21.5px;color:#d0d4e4;letter-spacing:0.4px;">8006</div>
<div class="rd" style="left:1568px;top:1509px;width:1321px"></div>
<div class="t" style="left:1566.0px;top:1528.3px;font-size:21.5px;color:#d0d4e4;letter-spacing:0.4px;">Meta</div>
<div class="t" style="left:2205.5px;top:1528.3px;font-size:21.5px;color:#d0d4e4;letter-spacing:0.4px;">Demo API</div>
<div class="t" style="left:2616.0px;top:1528.3px;font-size:21.5px;color:#d0d4e4;letter-spacing:0.4px;">7996</div>
<div class="rd" style="left:1568px;top:1566px;width:1321px"></div>
</body></html>
